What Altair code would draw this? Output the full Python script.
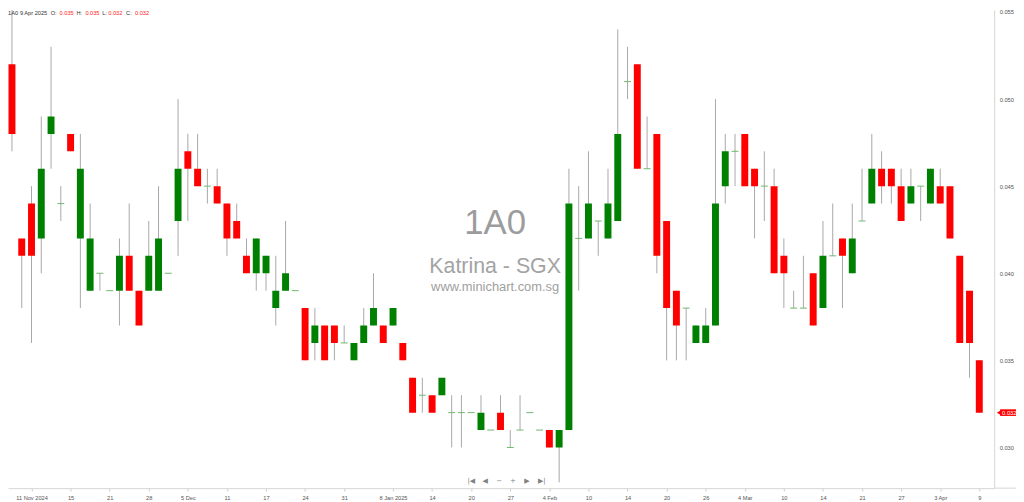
import json
import altair as alt
import pandas as pd

# ---------------- data ----------------
opens = [0.052, 0.042, 0.044, 0.042, 0.048, 0.044, 0.048, 0.042, 0.039, 0.040,
         0.039, 0.039, 0.041, 0.039, 0.039, 0.039, 0.040, 0.043, 0.047, 0.046,
         0.045, 0.045, 0.044, 0.043, 0.041, 0.040, 0.040, 0.038, 0.039, 0.039,
         0.038, 0.036, 0.037, 0.037, 0.036, 0.035, 0.036, 0.037, 0.037, 0.037,
         0.036, 0.034, 0.033, 0.033, 0.033, 0.032, 0.032, 0.032, 0.031, 0.031,
         0.032, 0.030, 0.031, 0.032, 0.031, 0.031, 0.030, 0.031, 0.042, 0.042,
         0.043, 0.042, 0.043, 0.051, 0.052, 0.046, 0.048, 0.043, 0.039, 0.038,
         0.036, 0.036, 0.037, 0.045, 0.047, 0.048, 0.046, 0.045, 0.045, 0.041,
         0.038, 0.038, 0.040, 0.038, 0.041, 0.042, 0.040, 0.043, 0.044, 0.046,
         0.046, 0.045, 0.044, 0.045, 0.044, 0.045, 0.045, 0.041, 0.039, 0.035]
highs = [0.056, 0.042, 0.045, 0.049, 0.053, 0.045, 0.048, 0.048, 0.044, 0.040,
         0.039, 0.042, 0.044, 0.039, 0.043, 0.045, 0.040, 0.050, 0.048, 0.048,
         0.046, 0.046, 0.044, 0.044, 0.042, 0.042, 0.041, 0.041, 0.043, 0.039,
         0.038, 0.038, 0.037, 0.037, 0.037, 0.036, 0.038, 0.040, 0.037, 0.038,
         0.036, 0.034, 0.034, 0.033, 0.034, 0.033, 0.033, 0.032, 0.033, 0.031,
         0.033, 0.031, 0.033, 0.032, 0.031, 0.031, 0.031, 0.046, 0.045, 0.047,
         0.043, 0.046, 0.054, 0.053, 0.052, 0.049, 0.048, 0.043, 0.039, 0.038,
         0.037, 0.038, 0.050, 0.048, 0.048, 0.048, 0.046, 0.047, 0.046, 0.042,
         0.039, 0.041, 0.040, 0.043, 0.044, 0.042, 0.044, 0.046, 0.048, 0.047,
         0.046, 0.046, 0.046, 0.045, 0.046, 0.046, 0.045, 0.041, 0.039, 0.035]
lows = [0.047, 0.038, 0.036, 0.040, 0.046, 0.043, 0.047, 0.038, 0.039, 0.039,
        0.039, 0.037, 0.039, 0.037, 0.039, 0.039, 0.040, 0.041, 0.043, 0.045,
        0.044, 0.044, 0.041, 0.042, 0.040, 0.039, 0.039, 0.037, 0.039, 0.039,
        0.035, 0.035, 0.035, 0.035, 0.036, 0.035, 0.036, 0.037, 0.036, 0.037,
        0.035, 0.032, 0.032, 0.032, 0.033, 0.030, 0.030, 0.032, 0.031, 0.031,
        0.031, 0.030, 0.031, 0.032, 0.031, 0.030, 0.028, 0.031, 0.039, 0.042,
        0.041, 0.042, 0.043, 0.050, 0.046, 0.046, 0.040, 0.035, 0.035, 0.035,
        0.036, 0.036, 0.037, 0.044, 0.045, 0.045, 0.042, 0.043, 0.040, 0.038,
        0.038, 0.038, 0.037, 0.038, 0.041, 0.038, 0.040, 0.043, 0.044, 0.044,
        0.044, 0.043, 0.044, 0.043, 0.044, 0.044, 0.042, 0.036, 0.034, 0.032]
closes = [0.048, 0.041, 0.041, 0.046, 0.049, 0.044, 0.047, 0.046, 0.042, 0.040,
          0.039, 0.041, 0.039, 0.037, 0.041, 0.042, 0.040, 0.046, 0.046, 0.045,
          0.045, 0.044, 0.042, 0.042, 0.040, 0.042, 0.041, 0.039, 0.040, 0.039,
          0.035, 0.037, 0.035, 0.036, 0.036, 0.036, 0.037, 0.038, 0.036, 0.038,
          0.035, 0.032, 0.033, 0.032, 0.034, 0.032, 0.032, 0.032, 0.032, 0.031,
          0.031, 0.030, 0.031, 0.032, 0.031, 0.030, 0.031, 0.044, 0.042, 0.044,
          0.043, 0.044, 0.048, 0.051, 0.046, 0.046, 0.041, 0.038, 0.037, 0.038,
          0.037, 0.037, 0.044, 0.047, 0.047, 0.045, 0.045, 0.045, 0.040, 0.040,
          0.038, 0.038, 0.037, 0.041, 0.041, 0.041, 0.042, 0.043, 0.046, 0.045,
          0.045, 0.043, 0.045, 0.045, 0.046, 0.044, 0.042, 0.036, 0.036, 0.032]

tick_index = [2, 6, 10, 14, 18, 22, 26, 30, 34, 39, 43, 47, 51, 55, 59, 63, 67,
              71, 75, 79, 83, 87, 91, 95, 99]
tick_labels = ["11 Nov 2024", "15", "21", "28", "5 Dec", "11", "17", "24", "31",
               "8 Jan 2025", "14", "20", "27", "4 Feb", "10", "14", "20", "26",
               "4 Mar", "10", "14", "21", "27", "3 Apr", "9"]
price_ticks = [0.030, 0.035, 0.040, 0.045, 0.050, 0.055]

header_parts = [("1A0", "#333333"), ("9 Apr 2025", "#333333"), ("O:", "#333333"),
                ("0.035", "#ff2020"), ("H:", "#333333"), ("0.035", "#ff2020"),
                ("L:", "#333333"), ("0.032", "#ff2020"), ("C:", "#333333"),
                ("0.032", "#ff2020")]
header_x = [0, 12, 43, 52, 69, 78, 95, 101, 119, 128]

# ---------------- layout ----------------
W, H = 994, 482
X_DOMAIN = [-0.406, 100.523]
Y_DOMAIN = [0.027665, 0.055114]
HALF = 0.355
FONT = "Liberation Sans"

df = pd.DataFrame({"i": list(range(len(opens))), "open": opens, "high": highs,
                   "low": lows, "close": closes})

all_labels = [""] * len(opens)
for k, lab in zip(tick_index, tick_labels):
    all_labels[k] = lab
label_expr = json.dumps(all_labels) + "[datum.value]"

xscale = alt.Scale(domain=X_DOMAIN, nice=False, zero=False)
yscale = alt.Scale(domain=Y_DOMAIN, nice=False, zero=False)

x_axis = alt.Axis(values=tick_index, labelExpr=label_expr, orient="bottom",
                  grid=False, title=None, domainColor="#d6d6d6", tickColor="#cfcfcf",
                  tickSize=3, labelFontSize=5.7, labelColor="#555555", labelFont=FONT,
                  labelPadding=3, labelOverlap=False, labelFlush=False)
y_axis = alt.Axis(values=price_ticks, format=".3f", orient="right", grid=False,
                  title=None, ticks=False, domainColor="#d6d6d6", labelFontSize=5.8,
                  labelColor="#555555", labelFont=FONT, labelPadding=5)

base = alt.Chart(df)

wicks = base.transform_filter("datum.high > datum.low").mark_rule(
    color="#a8a8a8", strokeWidth=1, clip=True
).encode(
    x=alt.X("i:Q", scale=xscale, axis=x_axis),
    y=alt.Y("low:Q", scale=yscale, axis=y_axis),
    y2="high:Q",
)

bodies = base.transform_filter("datum.open != datum.close").transform_calculate(
    x0=f"datum.i - {HALF}", x1=f"datum.i + {HALF}",
    top="max(datum.open, datum.close)", bot="min(datum.open, datum.close)",
    col="datum.close > datum.open ? '#008000' : '#ff0000'",
).mark_rect(clip=True).encode(
    x=alt.X("x0:Q", scale=xscale), x2="x1:Q",
    y=alt.Y("top:Q", scale=yscale), y2="bot:Q",
    color=alt.Color("col:N", scale=None),
)

dojis = base.transform_filter("datum.open == datum.close").transform_calculate(
    x0=f"datum.i - {HALF}", x1=f"datum.i + {HALF}",
).mark_rule(color="#6fb86f", strokeWidth=1, clip=True).encode(
    x=alt.X("x0:Q", scale=xscale), x2="x1:Q",
    y=alt.Y("open:Q", scale=yscale),
)

# last price tag on the right axis
last = pd.DataFrame({"p": [closes[-1]], "t": [f"{closes[-1]:.3f}"]})
tag_base = alt.Chart(last).transform_calculate(
    p_hi="datum.p + 0.00019", p_lo="datum.p - 0.00019")
tag_rect = tag_base.mark_rect(color="#ff0000").encode(
    x=alt.value(1000), x2=alt.value(1016),
    y=alt.Y("p_hi:Q", scale=yscale), y2="p_lo:Q")
tag_tri = tag_base.mark_point(shape="triangle-left", filled=True, size=28,
                              color="#ff0000", opacity=1).encode(
    x=alt.value(999), y=alt.Y("p:Q", scale=yscale))
tag_txt = tag_base.mark_text(color="white", fontSize=5.8, font=FONT, align="left",
                             baseline="middle").encode(
    x=alt.value(1002), y=alt.Y("p:Q", scale=yscale), text="t:N")

extra_domain = alt.Chart(last).mark_rule(color="#d6d6d6").encode(
    x=alt.value(W), x2=alt.value(W + 22), y=alt.value(H))


def text_layer(txt, x, y, size, color, align="left", font=FONT):
    return alt.Chart(pd.DataFrame({"t": [txt]})).mark_text(
        align=align, baseline="alphabetic", fontSize=size, color=color, font=font
    ).encode(x=alt.value(x), y=alt.value(y), text="t:N")


water = [
    text_layer("1A0", 491, 226, 35, "#9c9c9c", "center"),
    text_layer("Katrina - SGX", 491, 265, 21.5, "#a3a3a3", "center"),
    text_layer("www.minichart.com.sg", 491, 283, 13, "#a0a0a0", "center"),
]

header = [text_layer(t, x, 5, 5.7, c) for (t, c), x in zip(header_parts, header_x)]

nav_syms = ["|◀", "◀", "−", "+", "▶", "▶|"]
nav_x = [467, 481, 495, 509, 523, 538]
nav = [text_layer(s, x, 477, 7, "#808080", "center", "DejaVu Sans")
       for s, x in zip(nav_syms, nav_x)]

chart = alt.layer(
    *water, wicks, bodies, dojis, tag_rect, tag_tri, tag_txt, extra_domain,
    *header, *nav
).properties(
    width=W, height=H,
    autosize=alt.AutoSizeParams(type="none"),
    padding={"left": 0, "top": 0, "right": 22, "bottom": 12},
    background="white",
).configure_view(stroke=None)

chart.save("out.html", embed_options={"renderer": "svg", "actions": False})
